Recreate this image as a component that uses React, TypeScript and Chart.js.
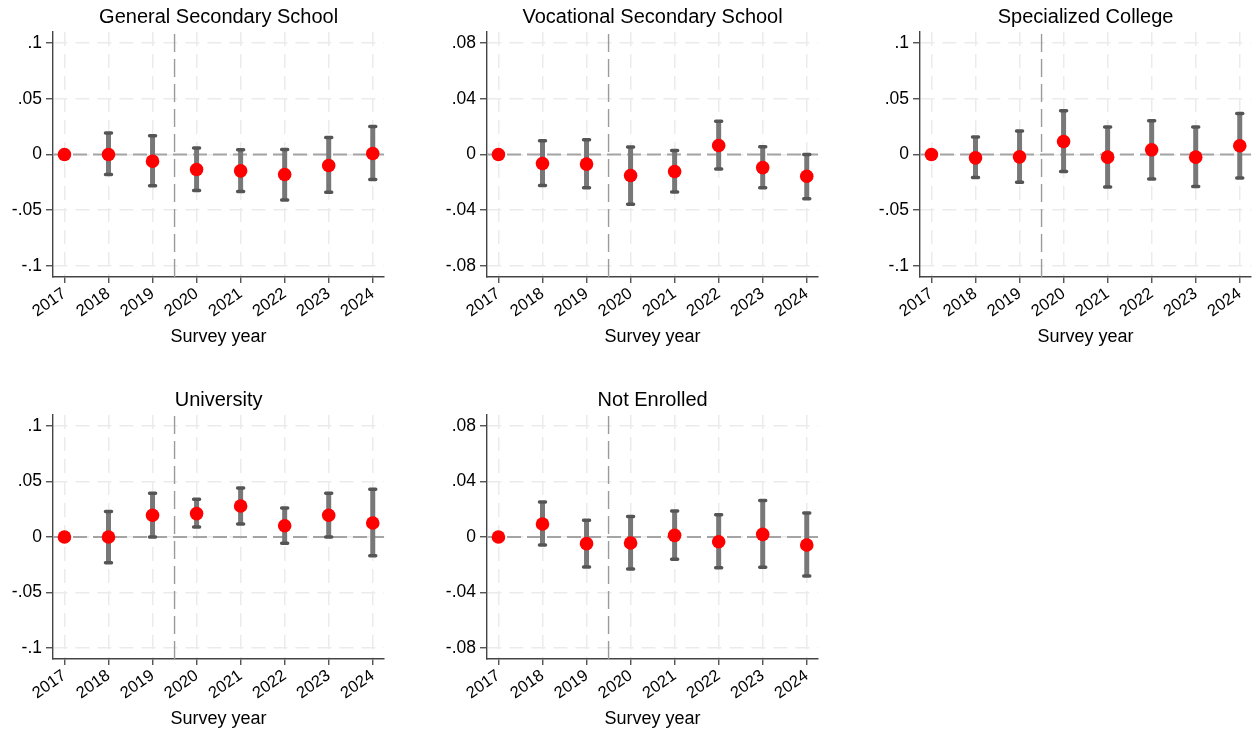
import React, { useEffect, useRef } from "react";
import { Chart, registerables } from "chart.js";

Chart.register(...registerables);

// ---------- data ----------
const years = [2017, 2018, 2019, 2020, 2021, 2022, 2023, 2024];
const treatmentLine = 2019.5;

const gssCoef = [0, 0.0, -0.006, -0.0135, -0.0147, -0.018, -0.0099, 0.0009];
const gssLow = [null, -0.018, -0.028, -0.0324, -0.0333, -0.0408, -0.0339, -0.0225];
const gssHigh = [null, 0.0193, 0.0168, 0.0058, 0.0042, 0.0045, 0.0153, 0.0252];

const vocCoef = [0, -0.0065, -0.0069, -0.0151, -0.0122, 0.0065, -0.0094, -0.0156];
const vocLow = [null, -0.0223, -0.0238, -0.0357, -0.0269, -0.0105, -0.0238, -0.0317];
const vocHigh = [null, 0.0099, 0.0106, 0.0053, 0.0029, 0.0238, 0.0055, 0.0];

const spcCoef = [0, -0.003, -0.0021, 0.0117, -0.0024, 0.0042, -0.0024, 0.0078];
const spcLow = [null, -0.0207, -0.0249, -0.0153, -0.0291, -0.0219, -0.0288, -0.021];
const spcHigh = [null, 0.0157, 0.021, 0.0393, 0.0246, 0.0303, 0.0246, 0.0369];

const uniCoef = [0, 0.0, 0.0196, 0.0211, 0.028, 0.0102, 0.0196, 0.0126];
const uniLow = [null, -0.0232, 0.0, 0.009, 0.0117, -0.0057, 0.0, -0.0169];
const uniHigh = [null, 0.0229, 0.0394, 0.034, 0.0442, 0.0262, 0.0394, 0.043];

const notCoef = [0, 0.0094, -0.0048, -0.0043, 0.0012, -0.0034, 0.0019, -0.0058];
const notLow = [null, -0.0058, -0.0217, -0.0231, -0.0161, -0.0222, -0.0219, -0.0282];
const notHigh = [null, 0.0253, 0.012, 0.0147, 0.0188, 0.0161, 0.0263, 0.0174];

const panelTitles = [
  "General Secondary School",
  "Vocational Secondary School",
  "Specialized College",
  "University",
  "Not Enrolled",
];

const wideTicks = [-0.1, -0.05, 0, 0.05, 0.1];
const wideTickLabels = ["-.1", "-.05", "0", ".05", ".1"];
const narrowTicks = [-0.08, -0.04, 0, 0.04, 0.08];
const narrowTickLabels = ["-.08", "-.04", "0", ".04", ".08"];
const wideLimit = 0.11;
const narrowLimit = 0.088;
const xMin = 2016.74;
const xMax = 2024.26;
const xAxisTitle = "Survey year";

// ---------- layout ----------
const FONT = '"Liberation Sans", Arial, Helvetica, sans-serif';
const YW = 52; // y-axis box width
const TOPPAD = 32; // space above plot area
const XH = 71; // x-axis box height
const RP = 4;

type PanelCfg = {
  title: string;
  coef: number[];
  low: (number | null)[];
  high: (number | null)[];
  ticks: number[];
  tickLabels: string[];
  limit: number;
  left: number;
  top: number;
  plotW: number;
  plotH: number;
};

const panels: PanelCfg[] = [
  { title: panelTitles[0], coef: gssCoef, low: gssLow, high: gssHigh, ticks: wideTicks, tickLabels: wideTickLabels, limit: wideLimit, left: 53, top: 32, plotW: 334, plotH: 245 },
  { title: panelTitles[1], coef: vocCoef, low: vocLow, high: vocHigh, ticks: narrowTicks, tickLabels: narrowTickLabels, limit: narrowLimit, left: 487, top: 32, plotW: 334, plotH: 245 },
  { title: panelTitles[2], coef: spcCoef, low: spcLow, high: spcHigh, ticks: wideTicks, tickLabels: wideTickLabels, limit: wideLimit, left: 920, top: 32, plotW: 334, plotH: 245 },
  { title: panelTitles[3], coef: uniCoef, low: uniLow, high: uniHigh, ticks: wideTicks, tickLabels: wideTickLabels, limit: wideLimit, left: 53, top: 415, plotW: 334, plotH: 244 },
  { title: panelTitles[4], coef: notCoef, low: notLow, high: notHigh, ticks: narrowTicks, tickLabels: narrowTickLabels, limit: narrowLimit, left: 487, top: 415, plotW: 334, plotH: 244 },
];

function Panel({ cfg }: { cfg: PanelCfg }) {
  const ref = useRef<HTMLCanvasElement>(null);
  const w = YW + cfg.plotW + RP;
  const h = TOPPAD + cfg.plotH + XH;

  useEffect(() => {
    if (!ref.current) return;

    const errorBars = {
      id: "errorBars",
      beforeDatasetDraw(chart: any, args: any) {
        if (args.index !== 0) return;
        const ctx = chart.ctx;
        const xs = chart.scales.x;
        const ys = chart.scales.y;
        ctx.save();
        years.forEach((yr, i) => {
          const lo = cfg.low[i];
          const hi = cfg.high[i];
          if (lo == null || hi == null) return;
          const x = xs.getPixelForValue(yr);
          const y1 = ys.getPixelForValue(lo);
          const y2 = ys.getPixelForValue(hi);
          ctx.beginPath();
          ctx.strokeStyle = "#787878";
          ctx.lineWidth = 5;
          ctx.lineCap = "butt";
          ctx.moveTo(x, y1);
          ctx.lineTo(x, y2);
          ctx.stroke();
          ctx.beginPath();
          ctx.strokeStyle = "#555555";
          ctx.lineWidth = 3.5;
          ctx.lineCap = "round";
          ctx.moveTo(x - 3, y1);
          ctx.lineTo(x + 3, y1);
          ctx.moveTo(x - 3, y2);
          ctx.lineTo(x + 3, y2);
          ctx.stroke();
        });
        ctx.restore();
      },
    };

    const panelTitle = {
      id: "panelTitle",
      afterDraw(chart: any) {
        const ctx = chart.ctx;
        const ca = chart.chartArea;
        ctx.save();
        ctx.font = `20px ${FONT}`;
        ctx.fillStyle = "#000";
        ctx.textAlign = "center";
        ctx.textBaseline = "middle";
        ctx.fillText(cfg.title, (ca.left + ca.right) / 2, ca.top - 15);
        ctx.restore();
      },
    };

    const chart = new Chart(ref.current, {
      type: "scatter",
      data: {
        datasets: [
          {
            data: years.map((yr, i) => ({ x: yr, y: cfg.coef[i] })),
            backgroundColor: "#ff0000",
            borderWidth: 0,
            pointRadius: 6.8,
            order: 0,
          } as any,
          {
            data: [
              { x: xMin, y: 0 },
              { x: xMax, y: 0 },
            ],
            showLine: true,
            borderColor: "#a4a4a4",
            borderWidth: 2,
            borderDash: [14, 6],
            pointRadius: 0,
            order: 2,
          } as any,
          {
            data: [
              { x: treatmentLine, y: -cfg.limit },
              { x: treatmentLine, y: cfg.limit },
            ],
            showLine: true,
            borderColor: "#9a9a9a",
            borderWidth: 1.4,
            borderDash: [18, 7],
            pointRadius: 0,
            order: 3,
          } as any,
        ],
      },
      options: {
        responsive: false,
        animation: false,
        events: [],
        layout: { padding: { top: TOPPAD, right: RP, left: 0, bottom: 0 } },
        plugins: {
          legend: { display: false },
          tooltip: { enabled: false },
          title: { display: false },
        },
        scales: {
          x: {
            type: "linear",
            min: xMin,
            max: xMax,
            afterBuildTicks: (s: any) => {
              s.ticks = years.map((v) => ({ value: v }));
            },
            afterFit: (s: any) => {
              s.height = XH;
            },
            ticks: {
              minRotation: 35,
              maxRotation: 35,
              autoSkip: false,
              padding: 1,
              color: "#000",
              font: { family: FONT, size: 16.5 },
              callback: (v: any) => String(v),
            },
            grid: {
              color: "#ebebeb",
              lineWidth: 1.5,
              tickLength: 6,
              tickColor: "#444",
              tickWidth: 1.3,
            },
            border: { display: true, color: "#444", width: 1.4, dash: [14, 8] },
            title: {
              display: true,
              text: xAxisTitle,
              color: "#000",
              font: { family: FONT, size: 18 },
              padding: 0,
            },
          },
          y: {
            type: "linear",
            min: -cfg.limit,
            max: cfg.limit,
            afterBuildTicks: (s: any) => {
              s.ticks = cfg.ticks.map((v) => ({ value: v }));
            },
            afterFit: (s: any) => {
              s.width = YW;
            },
            ticks: {
              autoSkip: false,
              padding: 4,
              color: "#000",
              font: { family: FONT, size: 17.5 },
              callback: (_v: any, i: number) => cfg.tickLabels[i],
            },
            grid: {
              color: "#ebebeb",
              lineWidth: 1.5,
              tickLength: 7,
              tickColor: "#444",
              tickWidth: 1.3,
            },
            border: { display: true, color: "#444", width: 1.4, dash: [14, 8] },
          },
        },
      } as any,
      plugins: [errorBars, panelTitle],
    });
    return () => chart.destroy();
  }, []);

  return (
    <canvas
      ref={ref}
      width={w}
      height={h}
      style={{ position: "absolute", left: cfg.left - YW, top: cfg.top - TOPPAD, width: w, height: h }}
    />
  );
}

export default function App() {
  return (
    <div style={{ position: "absolute", left: 0, top: 0, width: 1258, height: 731, background: "#fff" }}>
      {panels.map((p, i) => (
        <Panel key={i} cfg={p} />
      ))}
    </div>
  );
}
